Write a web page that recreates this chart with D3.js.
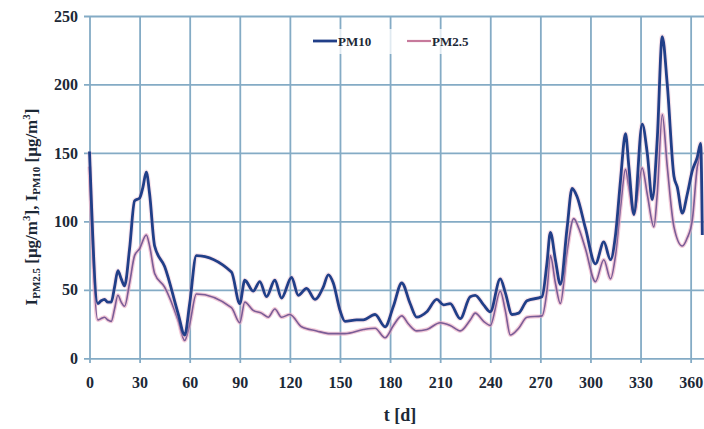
<!DOCTYPE html>
<html>
<head>
<meta charset="utf-8">
<script src="https://cdn.jsdelivr.net/npm/d3@7"></script>
<style>
  html, body { margin: 0; padding: 0; background: #fff; }
  svg { display: block; }
  .axis text { font-family: "Liberation Serif", "Times New Roman", serif; font-weight: bold; font-size: 16px; fill: #1c2836; }
  .axis .domain { display: none; }
  .axis line { stroke: #84abc5; stroke-width: 1.8; }
  .title { font-family: "Liberation Serif", "Times New Roman", serif; font-weight: bold; fill: #1c2836; }
  .leg { font-family: "Liberation Serif", "Times New Roman", serif; font-weight: bold; font-size: 13px; fill: #1c2836; }
</style>
</head>
<body>
<div id="chart"></div>
<script>
const pm10Days = [0, 5, 7, 9, 11, 13, 15, 17, 19, 21, 24, 27, 30, 32, 34, 36, 39, 45, 53, 57, 60, 64,
  85, 90, 93, 98, 102, 106, 111, 115, 121, 125, 130, 135, 140, 143, 146, 150, 153, 160, 164, 171, 177,
  182, 187, 192, 196, 202, 208, 212, 216, 222, 228, 231, 236, 240, 246, 249, 253, 257, 262, 271, 274,
  276, 279, 282, 286, 289, 292, 297, 303, 308, 312, 315, 318, 321, 323, 326, 331, 334, 337, 340, 343,
  346, 350, 352, 355, 358, 361, 364, 366, 367];
const pm10Vals = [151, 40, 42, 43, 41, 41, 52, 64, 58, 53, 80, 115, 117, 125, 136, 120, 82, 67, 33, 17, 40, 75,
  63, 40, 57, 49, 56, 45, 57, 44, 59, 46, 51, 43, 52, 61, 55, 35, 27, 28, 28, 32, 23,
  38, 55, 40, 30, 34, 43, 39, 40, 29, 45, 46, 39, 34, 58, 48, 32, 33, 42, 45, 70,
  92, 72, 54, 95, 124, 118, 95, 69, 85, 72, 90, 130, 164, 140, 105, 171, 150, 116, 160, 235,
  200, 133, 125, 106, 120, 137, 147, 157, 90];

const pm25Days = [0, 5, 7, 9, 11, 13, 15, 17, 19, 21, 24, 27, 30, 34, 36, 39, 45, 53, 57, 60, 64,
  85, 90, 93, 98, 103, 107, 111, 115, 120, 127, 136, 144, 153, 164, 171, 177, 182, 187, 191, 196,
  202, 210, 216, 222, 228, 231, 236, 240, 246, 249, 252, 257, 262, 271, 274, 276, 279, 282, 286,
  290, 293, 297, 303, 308, 312, 315, 318, 321, 323, 326, 331, 334, 338, 340, 343, 346, 350, 355,
  358, 361, 364, 366];
const pm25Vals = [140, 28, 29, 30, 28, 27, 36, 46, 41, 38, 55, 75, 80, 90, 82, 62, 52, 28, 13, 25, 47,
  37, 26, 41, 35, 33, 30, 36, 30, 32, 23, 20, 18, 18, 21, 22, 15, 24, 31, 25, 20,
  21, 26, 24, 20, 28, 33, 27, 24, 49, 35, 17, 22, 30, 31, 50, 75, 55, 40, 78,
  102, 95, 80, 56, 72, 58, 75, 110, 138, 125, 106, 139, 120, 96, 120, 178, 140, 96, 82,
  88, 101, 140, 150];

const xTicks = [0, 30, 60, 90, 120, 150, 180, 210, 240, 270, 300, 330, 360];
const yTicks = [0, 50, 100, 150, 200, 250];

const W = 704, H = 429;
const svg = d3.select("#chart").append("svg").attr("width", W).attr("height", H);

const x = d3.scaleLinear([0, 368], [89.5, 704]);
const y = d3.scaleLinear([0, 250], [358.3, 16]);

// grid + tick labels (ticks poke out a few px past the plot edge)
svg.append("g").attr("class", "axis")
  .attr("transform", "translate(0,363)")
  .call(d3.axisBottom(x).tickValues(xTicks).tickSizeOuter(0)
    .tickSize(-(363 - 16)).tickPadding(13.5));
svg.append("g").attr("class", "axis")
  .attr("transform", "translate(84,0)")
  .call(d3.axisLeft(y).tickValues(yTicks).tickSizeOuter(0)
    .tickSize(-(W - 84)).tickPadding(6));

const pts = (days, vals) => days.map((d, i) => [d, vals[i]]);
const line = d3.line().x(d => x(d[0])).y(d => y(d[1])).curve(d3.curveMonotoneX);

const pm25 = pts(pm25Days, pm25Vals);
const pm10 = pts(pm10Days, pm10Vals);

// PM2.5: pink halo under a mauve core
svg.append("path").attr("d", line(pm25)).attr("fill", "none")
  .attr("stroke", "#e9a6c0").attr("stroke-width", 4).attr("stroke-opacity", 0.6)
  .attr("stroke-linejoin", "round");
svg.append("path").attr("d", line(pm25)).attr("fill", "none")
  .attr("stroke", "#7a5c96").attr("stroke-width", 1.6).attr("stroke-linejoin", "round");

// PM10
svg.append("path").attr("d", line(pm10)).attr("fill", "none")
  .attr("stroke", "#e7b3c6").attr("stroke-width", 5).attr("stroke-opacity", 0.35)
  .attr("stroke-linejoin", "round");
svg.append("path").attr("d", line(pm10)).attr("fill", "none")
  .attr("stroke", "#213f88").attr("stroke-width", 2.8).attr("stroke-linejoin", "round");

// legend
svg.append("rect").attr("x", 302).attr("y", 29).attr("width", 182).attr("height", 25)
  .attr("fill", "#fff").attr("opacity", 0.75);
const leg = [
  { name: "PM10", x0: 313, color: "#213f88", w: 2.8 },
  { name: "PM2.5", x0: 407, color: "#c77a9c", w: 2.2 }
];
for (const l of leg) {
  svg.append("line").attr("x1", l.x0).attr("x2", l.x0 + 24).attr("y1", 41).attr("y2", 41)
    .attr("stroke", l.color).attr("stroke-width", l.w);
  svg.append("text").attr("class", "leg").attr("x", l.x0 + 25).attr("y", 41)
    .attr("dy", "0.35em").text(l.name);
}

// axis titles
svg.append("text").attr("class", "title").attr("x", 400).attr("y", 421)
  .attr("text-anchor", "middle").attr("font-size", 18).text("t [d]");

const yt = svg.append("text").attr("class", "title")
  .attr("transform", "translate(37,207) rotate(-90)")
  .attr("text-anchor", "middle").attr("font-size", 17);
const parts = [
  ["I", 0], ["PM2.5", -1], [" [μg/m", 0], ["3", 1], ["], I", 0], ["PM10", -1],
  [" [μg/m", 0], ["3", 1], ["]", 0]
];
for (const [t, s] of parts) {
  const sp = yt.append("tspan").text(t);
  if (s < 0) sp.attr("font-size", 11).attr("baseline-shift", "-25%");
  else if (s > 0) sp.attr("font-size", 11).attr("baseline-shift", "60%");
}
</script>
</body>
</html>
